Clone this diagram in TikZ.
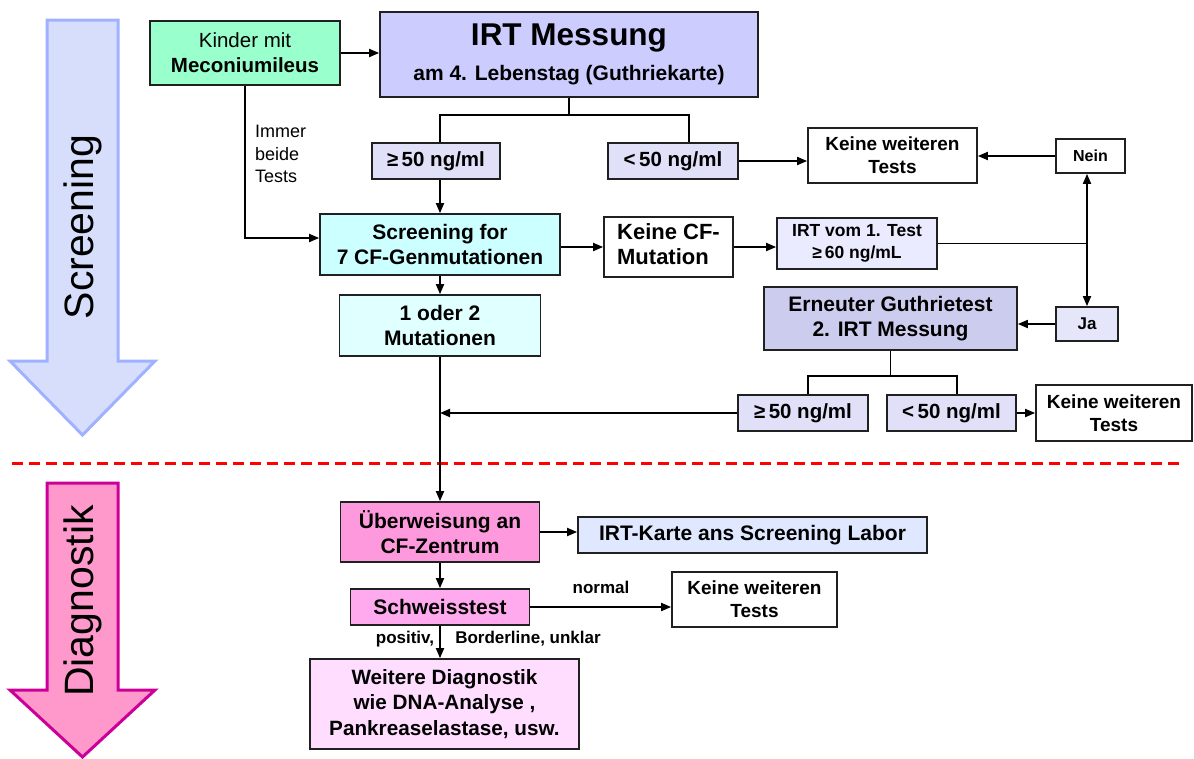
\documentclass[tikz,border=0pt]{standalone}
\usepackage{fontspec}
\setmainfont{Liberation Sans}
\usetikzlibrary{arrows.meta,calc}
\newcommand\fsz[2]{\fontsize{#1}{#2}\selectfont}
\definecolor{cKinder}{HTML}{99FFCC}
\definecolor{cIrt}{HTML}{CCCCFF}
\definecolor{cVal}{HTML}{E0E0F8}
\definecolor{cScreen}{HTML}{CCFFFF}
\definecolor{cMut}{HTML}{E0FFFF}
\definecolor{cIrtOne}{HTML}{EBEBFF}
\definecolor{cErn}{HTML}{CCCCEE}
\definecolor{cJa}{HTML}{E6E6FA}
\definecolor{cUber}{HTML}{FF99DD}
\definecolor{cKarte}{HTML}{E0E8FF}
\definecolor{cSchw}{HTML}{FFAAEE}
\definecolor{cWeit}{HTML}{FFDDFF}
\definecolor{cScrArrFill}{HTML}{D6DEFC}
\definecolor{cScrArrLine}{HTML}{A0B2FF}
\definecolor{cDiaArrFill}{HTML}{FF99CC}
\definecolor{cDiaArrLine}{HTML}{CC0099}
\definecolor{cBorder}{HTML}{202020}
\tikzset{
  box/.style={draw=cBorder, line width=1.7pt, align=center, inner sep=0pt,
    font=\bfseries\fsz{21}{25}},
  conn/.style={line width=1.8pt, draw=black},
  arr/.style={conn, -{Triangle[length=10pt,width=8pt]}},
  darr/.style={conn, {Triangle[length=10pt,width=8pt]}-{Triangle[length=10pt,width=8pt]}},
  lbl/.style={inner sep=0pt, font=\bfseries\fsz{17}{20}},
  bigarrow/.style={line width=3pt, line join=miter},
  side/.style={inner sep=0pt, rotate=90, font=\fsz{41}{45}}
}
\begin{document}
\begin{tikzpicture}[x=1pt,y=-1pt]
\useasboundingbox (0,0) rectangle (1194,758);

% big side arrows
\draw[bigarrow, fill=cScrArrFill, draw=cScrArrLine]
  (47,20) -- (118,20) -- (118,361) -- (155,361) -- (82.5,435) -- (10,361) -- (47,361) -- cycle;
\node[side] (scrtxt) at (82.5,227) {Screening};
\draw[bigarrow, fill=cDiaArrFill, draw=cDiaArrLine]
  (47,483) -- (118,483) -- (118,690) -- (155,690) -- (82.5,757) -- (10,690) -- (47,690) -- cycle;
\node[side] (diatxt) at (82.5,601) {Diagnostik};

% red separator
\coordinate (sepL) at (12,463);
\coordinate (sepR) at (1185,463);
\draw[red, line width=3pt, dash pattern=on 11pt off 6pt] (sepL) -- (sepR);

% nodes
\node[box, fill=cKinder, minimum width=190, minimum height=64, font=\fsz{20.5}{25}] (kinder) at (245,53)
  {Kinder mit\\\textbf{Meconiumileus}};
\node[box, fill=cIrt, minimum width=378, minimum height=85, font=\bfseries\fsz{21}{35}] (irt) at (569,54.5)
  {{\fsz{31.5}{35}IRT Messung}\\am 4. Lebenstag (Guthriekarte)};
\node[box, fill=cVal, minimum width=128, minimum height=36, font=\bfseries\fsz{20.5}{25}] (ge1) at (436,161) {≥\,50 ng/ml};
\node[box, fill=cVal, minimum width=130, minimum height=36, font=\bfseries\fsz{20.5}{25}] (lt1) at (673,161) {<\,50 ng/ml};
\node[box, fill=white, minimum width=169, minimum height=55, font=\bfseries\fsz{19}{23}] (keine1) at (892.5,155.5) {Keine weiteren\\Tests};
\node[box, fill=white, minimum width=69, minimum height=34, font=\bfseries\fsz{16}{20}] (nein) at (1090.5,156) {Nein};
\node[box, fill=cScreen, minimum width=240, minimum height=61] (screen) at (440,244.5)
  {Screening for\\7 CF-Genmutationen};
\node[box, fill=white, minimum width=129, minimum height=60, font=\bfseries\fsz{22}{25}] (keinecf) at (668.5,247)
  {\begin{tabular}{@{}l@{}}Keine CF-\\Mutation\end{tabular}};
\node[box, fill=cIrtOne, minimum width=160, minimum height=51, font=\bfseries\fsz{17.5}{22}] (irt1) at (857,243.5)
  {IRT vom 1. Test\\≥\,60 ng/mL};
\node[box, fill=cJa, minimum width=62, minimum height=34, font=\bfseries\fsz{17}{20}] (ja) at (1087,324) {Ja};
\node[box, fill=cErn, minimum width=253, minimum height=63] (erneut) at (890.5,318.5)
  {Erneuter Guthrietest\\2. IRT Messung};
\node[box, fill=cMut, minimum width=201, minimum height=61] (mut) at (440,325.5)
  {1 oder 2\\Mutationen};
\node[box, fill=cVal, minimum width=130, minimum height=36, font=\bfseries\fsz{20.5}{25}] (ge2) at (803,413) {≥\,50 ng/ml};
\node[box, fill=cVal, minimum width=129, minimum height=36, font=\bfseries\fsz{20.5}{25}] (lt2) at (951.5,413) {<\,50 ng/ml};
\node[box, fill=white, minimum width=156, minimum height=56, font=\bfseries\fsz{19}{23}] (keine3) at (1114,413) {Keine weiteren\\Tests};
\node[box, fill=cUber, minimum width=199, minimum height=60] (uberw) at (440,532)
  {Überweisung an\\CF-Zentrum};
\node[box, fill=cKarte, minimum width=349, minimum height=36] (irtk) at (752.5,535)
  {IRT-Karte ans Screening Labor};
\node[box, fill=cSchw, minimum width=179, minimum height=36] (schw) at (440,607) {Schweisstest};
\node[box, fill=white, minimum width=165, minimum height=55, font=\bfseries\fsz{19}{23}] (keine2) at (754.5,599.5) {Keine weiteren\\Tests};
\node[box, fill=cWeit, minimum width=269, minimum height=90, font=\bfseries\fsz{20.7}{25.5}] (weitere) at (444.5,704)
  {Weitere Diagnostik\\wie DNA-Analyse ,\\Pankreaselastase, usw.};

% labels
\node[inner sep=0pt, anchor=west, align=left, font=\fsz{18}{22.5}] (immer) at (255,154) {Immer\\beide\\Tests};
\node[lbl] (normal) at (601,587) {normal};
\node[lbl] (positiv) at (405,639) {positiv,};
\node[lbl] (border) at (528,639) {Borderline, unklar};

% connectors
\draw[arr] (kinder.east) -- (kinder.east -| irt.west);
\draw[conn] (irt.south) -- ++(0,17) coordinate (b1);
\draw[conn] (ge1.north -| screen.north) |- (b1) -| ($(lt1.north)+(16,0)$);
\draw[arr] (ge1.south -| screen.north) -- (screen.north);
\draw[arr] (kinder.south) |- ($(screen.west)+(0,-6.5)$);
\draw[arr] (lt1.east) -- (lt1.east -| keine1.west);
\draw[arr] (nein.west) -- (nein.west -| keine1.east);
\draw[arr] (keinecf.west -| screen.east) -- (keinecf.west);
\draw[arr] (keinecf.east) -- (keinecf.east -| irt1.west);
\draw[conn] (irt1.east) -- (irt1.east -| ja.north);
\draw[darr] (nein.south -| ja.north) -- (ja.north);
\draw[arr] (ja.west) -- (ja.west -| erneut.east);
\draw[conn] (erneut.south) -- ++(0,25) coordinate (b2);
\draw[conn] ($(ge2.north)+(5,0)$) |- (b2) -| ($(lt2.north)+(5.5,0)$);
\draw[arr] (lt2.east) -- (lt2.east -| keine3.west);
\draw[arr] (ge2.west) -- (ge2.west -| mut.south);
\draw[arr] (screen.south) -- (mut.north);
\draw[arr] (mut.south) -- (uberw.north);
\draw[arr] (uberw.east) -- (uberw.east -| irtk.west);
\draw[arr] (uberw.south) -- (schw.north);
\draw[arr] (schw.east) -- (schw.east -| keine2.west);
\draw[arr] (schw.south) -- (schw.south |- weitere.north);
\end{tikzpicture}
\end{document}
